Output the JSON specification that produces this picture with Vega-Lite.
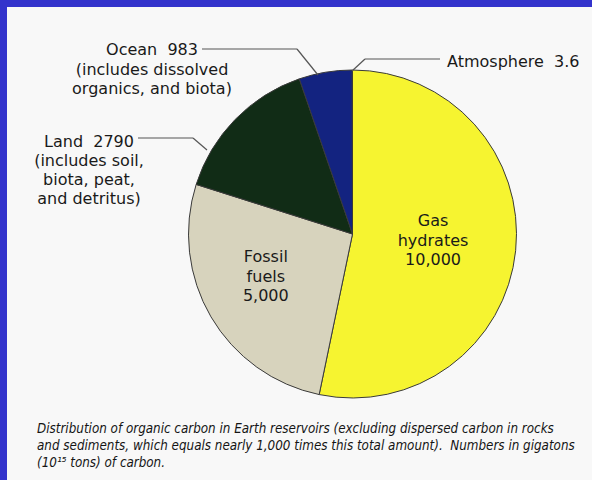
{
  "$schema": "https://vega.github.io/schema/vega-lite/v6.json",
  "width": 585,
  "height": 473,
  "autosize": {"type": "none"},
  "padding": {"left": 7, "top": 7, "right": 0, "bottom": 0},
  "background": "#3333cc",
  "view": {"fill": "#f8f8f8", "stroke": null},
  "config": {"font": "DejaVu Sans"},
  "title": {
    "text": [
      "Distribution of organic carbon in Earth reservoirs (excluding dispersed carbon in rocks",
      "and sediments, which equals nearly 1,000 times this total amount).\u00a0 Numbers in gigatons",
      "(10¹⁵ tons) of carbon."
    ],
    "orient": "bottom",
    "anchor": "start",
    "frame": "group",
    "offset": -58,
    "dx": 30,
    "font": "DejaVu Sans Condensed, Liberation Sans",
    "fontStyle": "italic",
    "fontWeight": "normal",
    "fontSize": 13.3,
    "lineHeight": 17,
    "color": "#151515"
  },
  "data": {
    "values": [
      {"name": "Gas hydrates", "value": 10000, "order": 1, "inner": "Gas\nhydrates\n10,000", "outer": ""},
      {"name": "Fossil fuels", "value": 5000, "order": 2, "inner": "Fossil\nfuels\n5,000", "outer": ""},
      {"name": "Land", "value": 2790, "order": 3, "inner": "", "outer": "Land\u00a0 2790\n(includes soil,\nbiota, peat,\nand detritus)"},
      {"name": "Ocean", "value": 983, "order": 4, "inner": "", "outer": "Ocean\u00a0 983\n(includes dissolved\norganics, and biota)"},
      {"name": "Atmosphere", "value": 3.6, "order": 5, "inner": "", "outer": "Atmosphere\u00a0 3.6"}
    ]
  },
  "layer": [
    {
      "mark": {"type": "arc", "outerRadius": 164, "x": 345.5, "y": 227, "stroke": "#3a3a3a", "strokeWidth": 1},
      "encoding": {
        "theta": {"field": "value", "type": "quantitative", "stack": true},
        "order": {"field": "order", "type": "quantitative"},
        "color": {
          "field": "name",
          "type": "nominal",
          "scale": {
            "domain": ["Gas hydrates", "Fossil fuels", "Land", "Ocean", "Atmosphere"],
            "range": ["#f6f430", "#d7d3bd", "#112c16", "#132380", "#c8c8c8"]
          },
          "legend": null
        }
      }
    },
    {
      "mark": {"type": "text", "radius": 90, "x": 336.5, "y": 227, "dy": -22, "fontSize": 16, "lineBreak": "\n", "lineHeight": 19.5, "color": "#1a1a1a", "align": "center", "baseline": "middle"},
      "encoding": {
        "theta": {"field": "value", "type": "quantitative", "stack": true},
        "order": {"field": "order", "type": "quantitative"},
        "text": {"field": "inner"}
      }
    },
    {
      "transform": [{"filter": "datum.name === 'Ocean'"}],
      "mark": {"type": "text", "x": 145, "y": 43, "fontSize": 16, "lineBreak": "\n", "lineHeight": 19.5, "color": "#1a1a1a", "align": "center", "baseline": "middle"},
      "encoding": {"text": {"field": "outer"}}
    },
    {
      "transform": [{"filter": "datum.name === 'Land'"}],
      "mark": {"type": "text", "x": 82, "y": 135, "fontSize": 16, "lineBreak": "\n", "lineHeight": 19, "color": "#1a1a1a", "align": "center", "baseline": "middle"},
      "encoding": {"text": {"field": "outer"}}
    },
    {
      "transform": [{"filter": "datum.name === 'Atmosphere'"}],
      "mark": {"type": "text", "x": 440, "y": 55, "fontSize": 16, "color": "#1a1a1a", "align": "left", "baseline": "middle"},
      "encoding": {"text": {"field": "outer"}}
    },
    {
      "transform": [{"filter": "datum.name === 'Ocean'"}],
      "mark": {"type": "rule", "color": "#555555", "strokeWidth": 1.2},
      "encoding": {"x": {"value": 195}, "y": {"value": 42}, "x2": {"value": 290}, "y2": {"value": 42}}
    },
    {
      "transform": [{"filter": "datum.name === 'Ocean'"}],
      "mark": {"type": "rule", "color": "#555555", "strokeWidth": 1.2},
      "encoding": {"x": {"value": 290}, "y": {"value": 42}, "x2": {"value": 311}, "y2": {"value": 68}}
    },
    {
      "transform": [{"filter": "datum.name === 'Land'"}],
      "mark": {"type": "rule", "color": "#555555", "strokeWidth": 1.2},
      "encoding": {"x": {"value": 131}, "y": {"value": 131}, "x2": {"value": 186}, "y2": {"value": 131}}
    },
    {
      "transform": [{"filter": "datum.name === 'Land'"}],
      "mark": {"type": "rule", "color": "#555555", "strokeWidth": 1.2},
      "encoding": {"x": {"value": 186}, "y": {"value": 131}, "x2": {"value": 200}, "y2": {"value": 143}}
    },
    {
      "transform": [{"filter": "datum.name === 'Atmosphere'"}],
      "mark": {"type": "rule", "color": "#555555", "strokeWidth": 1.2},
      "encoding": {"x": {"value": 345}, "y": {"value": 64}, "x2": {"value": 358}, "y2": {"value": 52}}
    },
    {
      "transform": [{"filter": "datum.name === 'Atmosphere'"}],
      "mark": {"type": "rule", "color": "#555555", "strokeWidth": 1.2},
      "encoding": {"x": {"value": 358}, "y": {"value": 52}, "x2": {"value": 433}, "y2": {"value": 52}}
    }
  ]
}
